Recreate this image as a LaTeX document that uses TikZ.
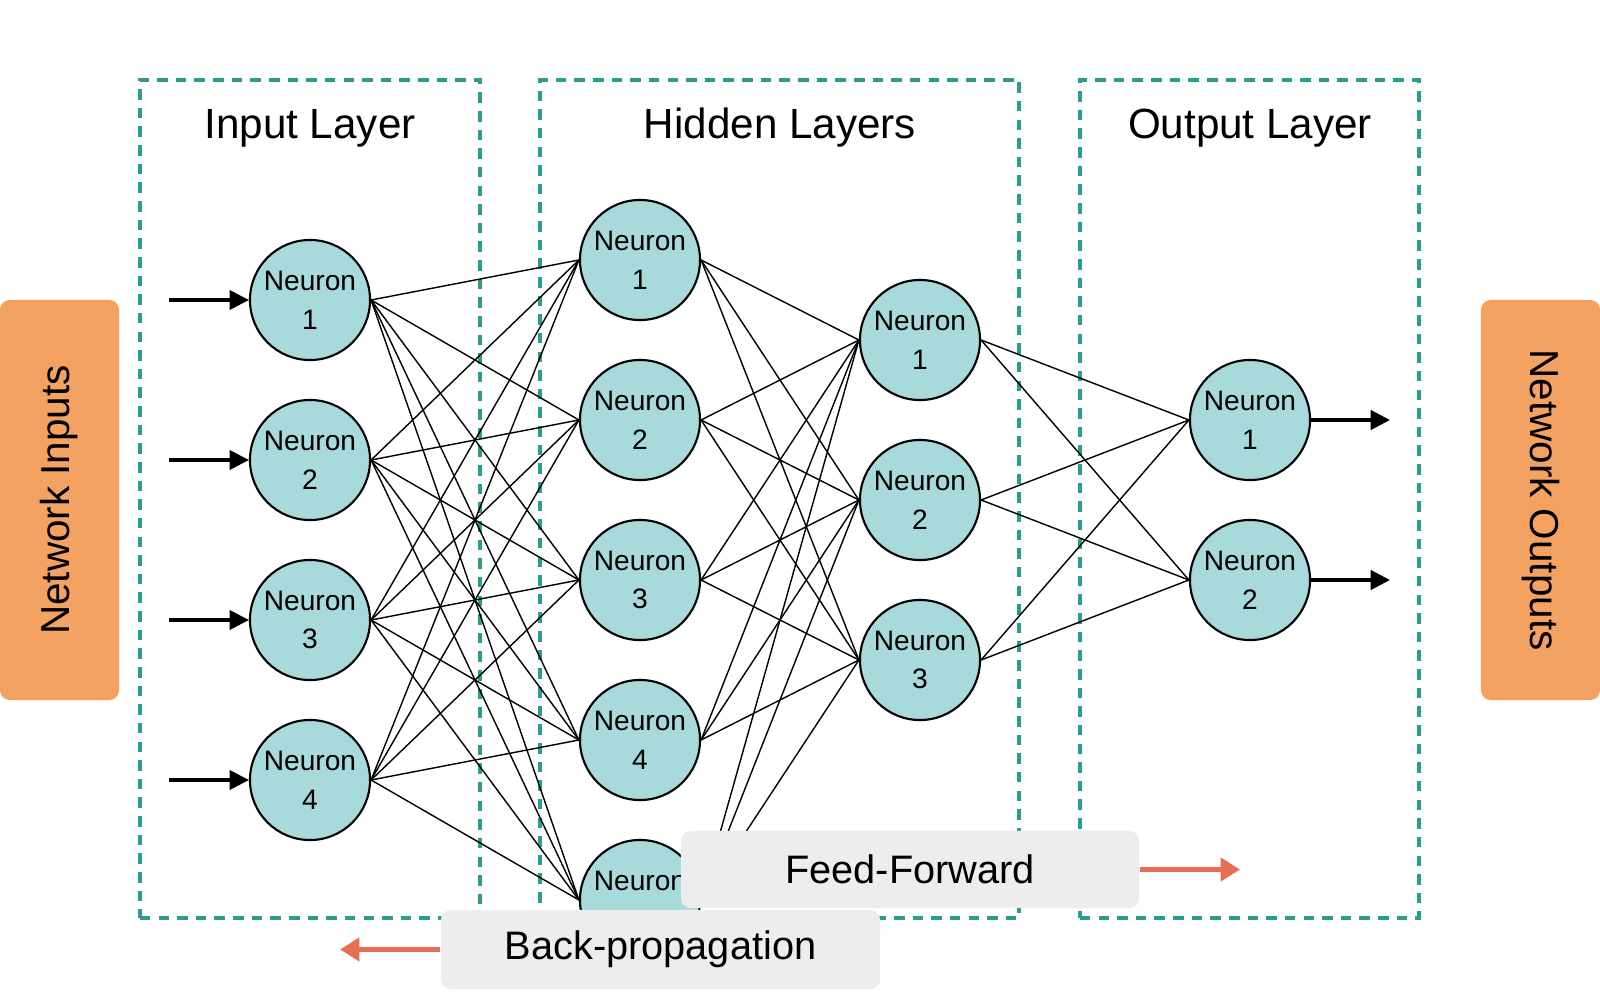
\documentclass[tikz,border=0pt]{standalone}
\usepackage{fontspec}
\setmainfont{Liberation Sans}
\usetikzlibrary{arrows.meta}
\definecolor{layerteal}{HTML}{2A9D8F}
\definecolor{neuronfill}{HTML}{A8DADC}
\definecolor{sideorange}{HTML}{F4A261}
\definecolor{flowred}{HTML}{E76F51}
\definecolor{labelgray}{HTML}{EDEDED}
\pgfdeclarelayer{boxlayer}
\pgfdeclarelayer{edgelayer}
\pgfsetlayers{boxlayer,edgelayer,main}
\begin{document}
\begin{tikzpicture}[x=0.01cm,y=-0.01cm,
  layerbox/.style={draw=layerteal, line width=1.1pt, dash pattern=on 3pt off 2.3pt, inner sep=0pt, minimum height=8.38cm},
  neuron/.style={circle, draw=black, line width=0.6pt, fill=neuronfill, minimum size=1.2cm, inner sep=0pt, align=center, font=\fontsize{8}{11}\selectfont},
  layertitle/.style={font=\fontsize{12}{14}\selectfont, inner sep=0pt},
  link/.style={line width=0.4pt},
  ioarrow/.style={line width=0.9pt, -{Triangle[length=5.5pt,width=5.5pt]}},
  sidebox/.style={fill=sideorange, rounded corners=0.1cm, minimum width=4cm, minimum height=1.19cm, inner sep=0pt, font=\fontsize{11.5}{13}\selectfont},
  labelbox/.style={fill=labelgray, rounded corners=0.1cm, inner sep=0pt, font=\fontsize{11.3}{13}\selectfont},
  flowarrow/.style={draw=flowred, line width=1.3pt, -{Triangle[length=5.5pt,width=6.5pt]}}
]
\useasboundingbox (0,0) rectangle (1600,1000);

% layer boxes
\begin{pgfonlayer}{boxlayer}
\fill[white] (0,0) rectangle (1600,1000);
\node[layerbox, minimum width=3.4cm] (inbox) at (310,499) {};
\node[layerbox, minimum width=4.79cm] (hidbox) at (779.5,499) {};
\node[layerbox, minimum width=3.39cm] (outbox) at (1249.5,499) {};
\end{pgfonlayer}
\node[layertitle] (tin) at (310,128) {Input Layer};
\node[layertitle] (thid) at (780,128) {Hidden Layers};
\node[layertitle] (tout) at (1250,128) {Output Layer};

% neurons
\foreach \k/\y in {1/300,2/460,3/620,4/780}
  \node[neuron] (i\k) at (310,\y) {Neuron\\\k};
\foreach \k/\y in {1/260,2/420,3/580,4/740}
  \node[neuron] (h\k) at (640,\y) {Neuron\\\k};
\node[neuron] (h5) at (640,900) {Neuron\\\phantom{5}};
\foreach \k/\y in {1/340,2/500,3/660}
  \node[neuron] (g\k) at (920,\y) {Neuron\\\k};
\foreach \k/\y in {1/420,2/580}
  \node[neuron] (o\k) at (1250,\y) {Neuron\\\k};

% connections
\begin{pgfonlayer}{edgelayer}
\foreach \a in {1,...,4}
  \foreach \b in {1,...,5}
    \draw[link] (i\a.east) -- (h\b.west);
\foreach \a in {1,...,5}
  \foreach \b in {1,...,3}
    \draw[link] (h\a.east) -- (g\b.west);
\foreach \a in {1,...,3}
  \foreach \b in {1,2}
    \draw[link] (g\a.east) -- (o\b.west);
\end{pgfonlayer}

% input / output arrows
\foreach \k/\y in {1/300,2/460,3/620,4/780}{
  \coordinate (is\k) at (169,\y);
  \draw[ioarrow] (is\k) -- (i\k.west);
}
\foreach \k/\y in {1/420,2/580}{
  \coordinate (oe\k) at (1390,\y);
  \draw[ioarrow] (o\k.east) -- (oe\k);
}

% side boxes
\node[sidebox, rotate=90] (nin) at (59.5,500) {Network Inputs};
\node[sidebox, rotate=-90] (nout) at (1540.5,500) {Network Outputs};

% flow labels
\node[labelbox, minimum width=4.58cm, minimum height=0.77cm] (ff) at (910,869.5) {Feed-Forward};
\coordinate (ffend) at (1240,869.5);
\draw[flowarrow] (ff.east) -- (ffend);
\node[labelbox, minimum width=4.39cm, minimum height=0.79cm] (bp) at (660.5,949.5) {Back-propagation};
\coordinate (bpend) at (340,949.5);
\draw[flowarrow] (bp.west) -- (bpend);
\end{tikzpicture}
\end{document}
